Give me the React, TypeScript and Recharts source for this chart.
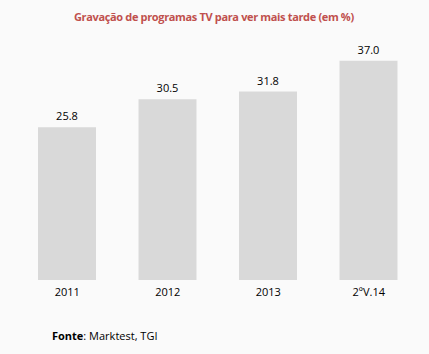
import React from 'react';
import { BarChart, Bar, XAxis, YAxis, LabelList } from 'recharts';

const categories = ['2011', '2012', '2013', '2ºV.14'];
const values = [25.8, 30.5, 31.8, 37.0];

const data = categories.map((name, i) => ({ name, value: values[i] }));

const font = '"Open Sans", "Liberation Sans", sans-serif';

const App: React.FC = () => {
  return (
    <div
      style={{
        position: 'absolute',
        left: 0,
        top: 0,
        width: 429,
        height: 354,
        background: '#fafafa',
        fontFamily: font,
      }}
    >
      <div
        style={{
          position: 'absolute',
          left: 74,
          top: 9,
          whiteSpace: 'nowrap',
          color: '#c0504d',
          fontWeight: 700,
          fontSize: 11,
          letterSpacing: -0.35,
        }}
      >
        Gravação de programas TV para ver mais tarde (em %)
      </div>
      <BarChart
        width={429}
        height={354}
        data={data}
        margin={{ top: 43, right: 10, bottom: 0, left: 17 }}
        style={{ position: 'absolute', left: 0, top: 0 }}
      >
        <XAxis
          dataKey="name"
          axisLine={false}
          tickLine={false}
          height={74}
          tick={{ fill: '#000', fontSize: 11, fontFamily: font }}
        />
        <YAxis hide domain={[0, 40]} />
        <Bar dataKey="value" fill="#d9d9d9" barSize={58} isAnimationActive={false}>
          <LabelList
            dataKey="value"
            position="top"
            offset={7}
            formatter={(v: any) => Number(v).toFixed(1)}
            style={{ fill: '#000', fontSize: 11, fontFamily: font }}
          />
        </Bar>
      </BarChart>
      <div
        style={{
          position: 'absolute',
          left: 52,
          top: 328,
          fontSize: 11,
          color: '#000',
        }}
      >
        <b>Fonte</b>: Marktest, TGI
      </div>
    </div>
  );
};

export default App;
